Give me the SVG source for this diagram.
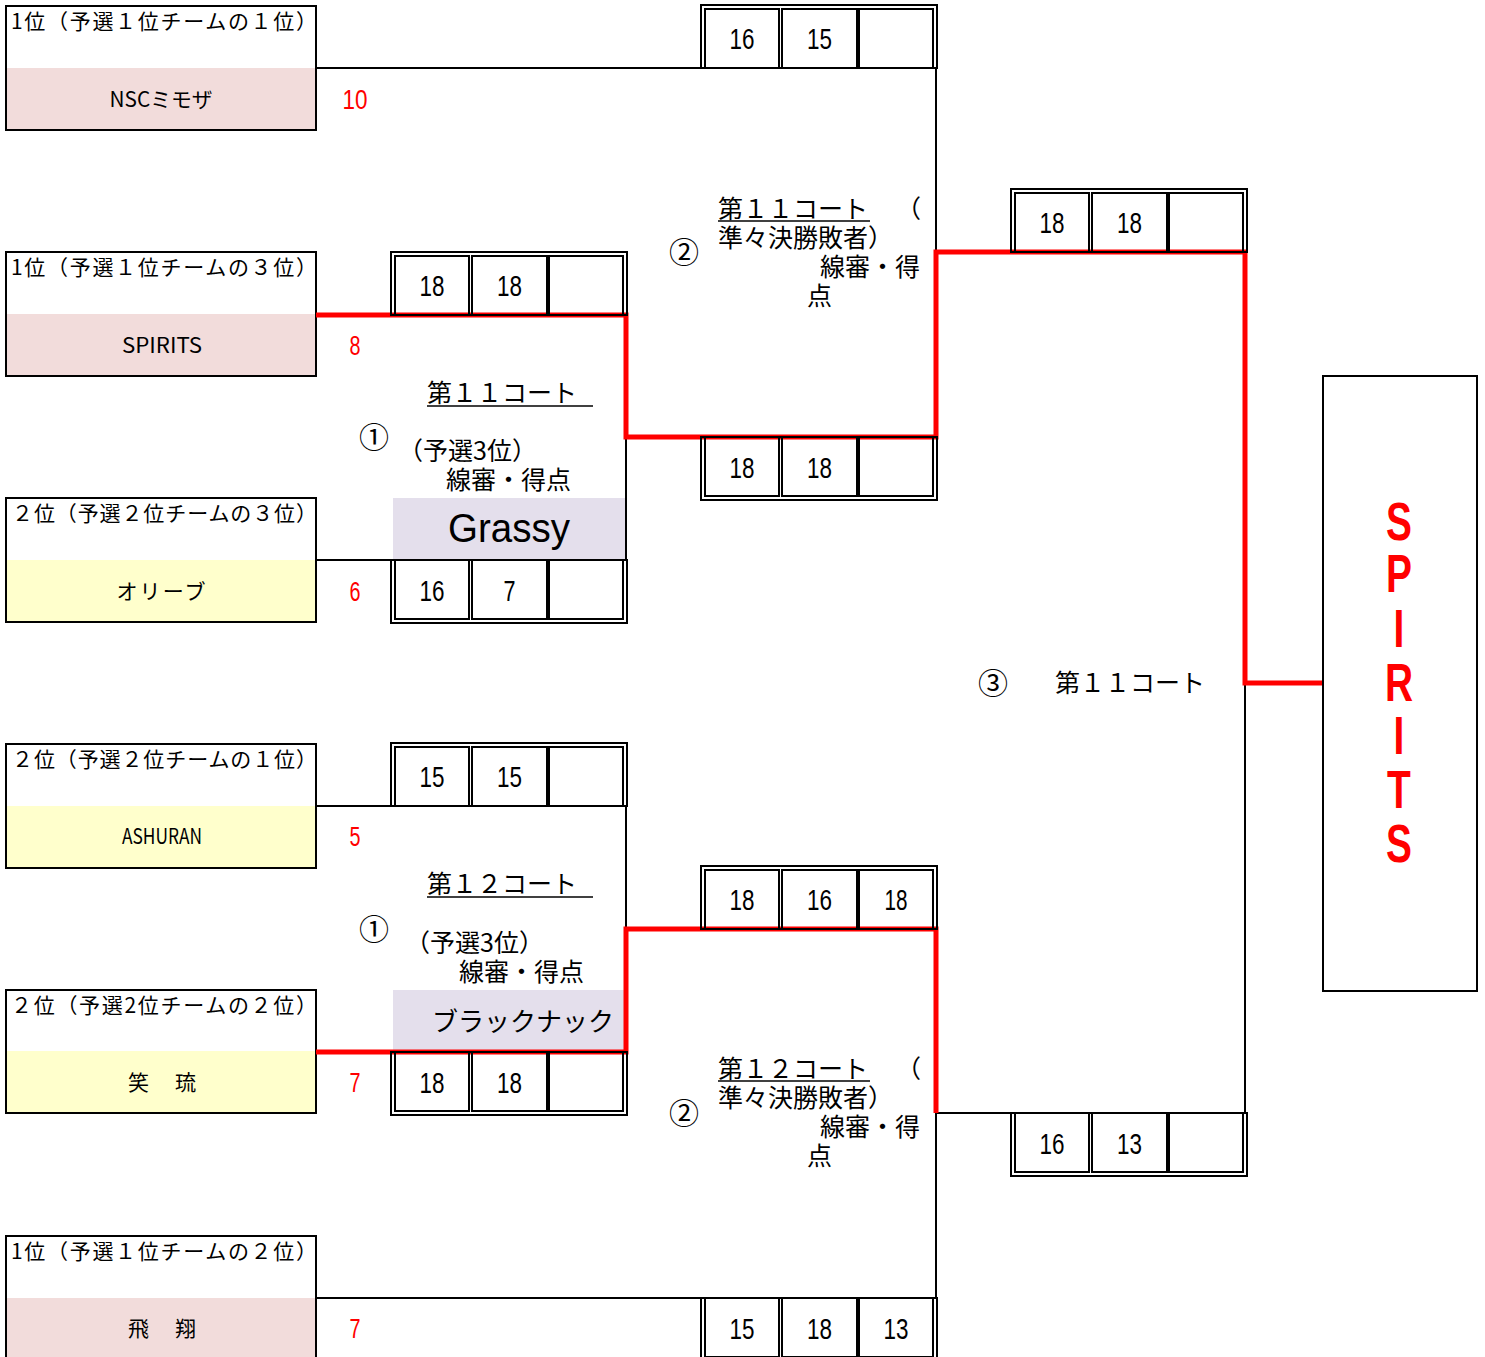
<svg xmlns="http://www.w3.org/2000/svg" width="1485" height="1357" viewBox="0 0 1485 1357">
<style>
.frame{fill:none;stroke:#000;stroke-width:2}
.pink{fill:#f2dcdb}
.yellow{fill:#ffffcc}
.lav{fill:#e4dfec}
.hdr{font-family:"Noto Sans CJK JP","Liberation Sans",sans-serif;font-size:21px;fill:#000}
.name{font-family:"Noto Sans CJK JP","Liberation Sans",sans-serif;font-size:21px;fill:#000;text-anchor:middle}
.lbl{font-family:"Noto Sans CJK JP","Liberation Sans",sans-serif;font-size:25px;fill:#000}
.circ{font-family:"Noto Sans CJK JP","DejaVu Sans",sans-serif;font-size:30px;fill:#000;text-anchor:middle}
.score{font-family:"Liberation Sans",sans-serif;font-size:29px;fill:#000;text-anchor:middle}
.pts{font-family:"Liberation Sans",sans-serif;font-size:28px;fill:#f00;text-anchor:middle}
.ul{stroke:#000;stroke-width:1.5}
.blk{fill:none;stroke:#000;stroke-width:2}
.red{fill:none;stroke:#f00;stroke-width:5}
</style>

<!-- Team boxes -->
<g id="team1">
<rect x="6" y="6" width="310" height="124" fill="#fff"/>
<rect class="pink" x="6" y="68" width="310" height="62"/>
<rect class="frame" x="6" y="6" width="310" height="124"/>
<text class="hdr" x="11" y="29" textLength="306">1位（予選１位チームの１位）</text>
<text class="name" x="161" y="107" textLength="103" lengthAdjust="spacingAndGlyphs">NSCミモザ</text>
<text class="pts" x="355" y="109" textLength="25" lengthAdjust="spacingAndGlyphs">10</text>
</g>
<g id="team2">
<rect x="6" y="252" width="310" height="124" fill="#fff"/>
<rect class="pink" x="6" y="314" width="310" height="62"/>
<rect class="frame" x="6" y="252" width="310" height="124"/>
<text class="hdr" x="11" y="275" textLength="306">1位（予選１位チームの３位）</text>
<text class="name" x="162" y="353" textLength="80" lengthAdjust="spacingAndGlyphs">SPIRITS</text>
<text class="pts" x="355" y="355" textLength="11" lengthAdjust="spacingAndGlyphs">8</text>
</g>
<g id="team3">
<rect x="6" y="498" width="310" height="124" fill="#fff"/>
<rect class="yellow" x="6" y="560" width="310" height="62"/>
<rect class="frame" x="6" y="498" width="310" height="124"/>
<text class="hdr" x="12" y="521" textLength="305">２位（予選２位チームの３位）</text>
<text class="name" x="161" y="599" textLength="89">オリーブ</text>
<text class="pts" x="355" y="601" textLength="11" lengthAdjust="spacingAndGlyphs">6</text>
</g>
<g id="team4">
<rect x="6" y="744" width="310" height="124" fill="#fff"/>
<rect class="yellow" x="6" y="806" width="310" height="62"/>
<rect class="frame" x="6" y="744" width="310" height="124"/>
<text class="hdr" x="12" y="767" textLength="305">２位（予選２位チームの１位）</text>
<text class="name" x="162" y="844" textLength="80" lengthAdjust="spacingAndGlyphs">ASHURAN</text>
<text class="pts" x="355" y="846" textLength="11" lengthAdjust="spacingAndGlyphs">5</text>
</g>
<g id="team5">
<rect x="6" y="990" width="310" height="123" fill="#fff"/>
<rect class="yellow" x="6" y="1051" width="310" height="62"/>
<rect class="frame" x="6" y="990" width="310" height="123"/>
<text class="hdr" x="11" y="1013" textLength="306">２位（予選2位チームの２位）</text>
<text class="name" x="162" y="1090" textLength="68">笑　琉</text>
<text class="pts" x="355" y="1092" textLength="11" lengthAdjust="spacingAndGlyphs">7</text>
</g>
<g id="team6">
<rect x="6" y="1236" width="310" height="126" fill="#fff"/>
<rect class="pink" x="6" y="1298" width="310" height="64"/>
<rect class="frame" x="6" y="1236" width="310" height="126"/>
<text class="hdr" x="11" y="1259" textLength="306">1位（予選１位チームの２位）</text>
<text class="name" x="162" y="1336" textLength="68">飛　翔</text>
<text class="pts" x="355" y="1338" textLength="11" lengthAdjust="spacingAndGlyphs">7</text>
</g>

<!-- Referee blocks -->
<g id="ref1">
<rect class="lav" x="393" y="498" width="233" height="62"/>
<text class="lbl" x="427" y="402">第１１コート</text>
<line class="ul" x1="427" y1="406" x2="593" y2="406"/>
<text class="circ" x="374" y="448">①</text>
<text class="lbl" x="398" y="460">（予選3位）</text>
<text class="lbl" x="446" y="489">線審・得点</text>
<text x="509" y="542" font-family="Liberation Sans,sans-serif" font-size="41" text-anchor="middle" textLength="122" lengthAdjust="spacingAndGlyphs">Grassy</text>
</g>
<g id="ref2">
<rect class="lav" x="393" y="990" width="233" height="62"/>
<text class="lbl" x="427" y="893">第１２コート</text>
<line class="ul" x1="427" y1="897" x2="593" y2="897"/>
<text class="circ" x="374" y="940">①</text>
<text class="lbl" x="405" y="952">（予選3位）</text>
<text class="lbl" x="459" y="981">線審・得点</text>
<text x="523" y="1031" font-family="Noto Sans CJK JP,sans-serif" font-size="26" text-anchor="middle" textLength="182">ブラックナック</text>
</g>
<g id="ref3">
<text class="circ" x="684" y="263">②</text>
<text class="lbl" x="718" y="218">第１１コート</text>
<line class="ul" x1="718" y1="221" x2="870" y2="221"/>
<text class="lbl" x="896" y="218">（</text>
<text class="lbl" x="718" y="247">準々決勝敗者）</text>
<text class="lbl" x="820" y="276">線審・得</text>
<text class="lbl" x="807" y="305">点</text>
</g>
<g id="ref4">
<text class="circ" x="684" y="1124">②</text>
<text class="lbl" x="718" y="1078">第１２コート</text>
<line class="ul" x1="718" y1="1081" x2="870" y2="1081"/>
<text class="lbl" x="896" y="1078">（</text>
<text class="lbl" x="718" y="1107">準々決勝敗者）</text>
<text class="lbl" x="820" y="1136">線審・得</text>
<text class="lbl" x="807" y="1165">点</text>
</g>
<g id="ref5">
<text class="circ" x="993" y="694">③</text>
<text class="lbl" x="1055" y="692">第１１コート</text>
</g>

<!-- Connectors -->
<g id="connectors">
<path class="blk" d="M316 68 H936 V252"/>
<path class="blk" d="M316 560 H626 V437"/>
<path class="blk" d="M316 806 H626 V929"/>
<path class="blk" d="M316 1298 H936 V1113"/>
<path class="blk" d="M936 1113 H1245 V683"/>
<path class="red" d="M316 315 H626 V437 H936 V252 H1245 V683 H1323"/>
<path class="red" d="M316 1052 H626 V929 H936 V1113"/>
</g>

<!-- Score boxes -->
<g id="score-qf1-top">
<rect class="frame" x="701" y="5" width="236" height="63"/>
<rect class="frame" x="705" y="9" width="74" height="59"/>
<rect class="frame" x="782" y="9" width="75" height="59"/>
<rect class="frame" x="859" y="9" width="74" height="59"/>
<text class="score" x="742" y="49" textLength="25" lengthAdjust="spacingAndGlyphs">16</text>
<text class="score" x="819.5" y="49" textLength="25" lengthAdjust="spacingAndGlyphs">15</text>
</g>
<g id="score-r1a-top">
<rect class="frame" x="391" y="252" width="236" height="63"/>
<rect class="frame" x="395" y="256" width="74" height="59"/>
<rect class="frame" x="472" y="256" width="75" height="59"/>
<rect class="frame" x="549" y="256" width="74" height="59"/>
<text class="score" x="432" y="296" textLength="25" lengthAdjust="spacingAndGlyphs">18</text>
<text class="score" x="509.5" y="296" textLength="25" lengthAdjust="spacingAndGlyphs">18</text>
</g>
<g id="score-r1a-bottom">
<rect class="frame" x="391" y="560" width="236" height="63"/>
<rect class="frame" x="395" y="560" width="74" height="59"/>
<rect class="frame" x="472" y="560" width="75" height="59"/>
<rect class="frame" x="549" y="560" width="74" height="59"/>
<text class="score" x="432" y="601" textLength="25" lengthAdjust="spacingAndGlyphs">16</text>
<text class="score" x="509.5" y="601" textLength="12" lengthAdjust="spacingAndGlyphs">7</text>
</g>
<g id="score-qf1-bottom">
<rect class="frame" x="701" y="437" width="236" height="63"/>
<rect class="frame" x="705" y="437" width="74" height="59"/>
<rect class="frame" x="782" y="437" width="75" height="59"/>
<rect class="frame" x="859" y="437" width="74" height="59"/>
<text class="score" x="742" y="478" textLength="25" lengthAdjust="spacingAndGlyphs">18</text>
<text class="score" x="819.5" y="478" textLength="25" lengthAdjust="spacingAndGlyphs">18</text>
</g>
<g id="score-sf-top">
<rect class="frame" x="1011" y="189" width="236" height="63"/>
<rect class="frame" x="1015" y="193" width="74" height="59"/>
<rect class="frame" x="1092" y="193" width="75" height="59"/>
<rect class="frame" x="1169" y="193" width="74" height="59"/>
<text class="score" x="1052" y="233" textLength="25" lengthAdjust="spacingAndGlyphs">18</text>
<text class="score" x="1129.5" y="233" textLength="25" lengthAdjust="spacingAndGlyphs">18</text>
</g>
<g id="score-sf-bottom">
<rect class="frame" x="1011" y="1113" width="236" height="63"/>
<rect class="frame" x="1015" y="1113" width="74" height="59"/>
<rect class="frame" x="1092" y="1113" width="75" height="59"/>
<rect class="frame" x="1169" y="1113" width="74" height="59"/>
<text class="score" x="1052" y="1154" textLength="25" lengthAdjust="spacingAndGlyphs">16</text>
<text class="score" x="1129.5" y="1154" textLength="25" lengthAdjust="spacingAndGlyphs">13</text>
</g>
<g id="score-r1b-top">
<rect class="frame" x="391" y="743" width="236" height="63"/>
<rect class="frame" x="395" y="747" width="74" height="59"/>
<rect class="frame" x="472" y="747" width="75" height="59"/>
<rect class="frame" x="549" y="747" width="74" height="59"/>
<text class="score" x="432" y="787" textLength="25" lengthAdjust="spacingAndGlyphs">15</text>
<text class="score" x="509.5" y="787" textLength="25" lengthAdjust="spacingAndGlyphs">15</text>
</g>
<g id="score-r1b-bottom">
<rect class="frame" x="391" y="1052" width="236" height="63"/>
<rect class="frame" x="395" y="1052" width="74" height="59"/>
<rect class="frame" x="472" y="1052" width="75" height="59"/>
<rect class="frame" x="549" y="1052" width="74" height="59"/>
<text class="score" x="432" y="1093" textLength="25" lengthAdjust="spacingAndGlyphs">18</text>
<text class="score" x="509.5" y="1093" textLength="25" lengthAdjust="spacingAndGlyphs">18</text>
</g>
<g id="score-qf2-top">
<rect class="frame" x="701" y="866" width="236" height="63"/>
<rect class="frame" x="705" y="870" width="74" height="59"/>
<rect class="frame" x="782" y="870" width="75" height="59"/>
<rect class="frame" x="859" y="870" width="74" height="59"/>
<text class="score" x="742" y="910" textLength="25" lengthAdjust="spacingAndGlyphs">18</text>
<text class="score" x="819.5" y="910" textLength="25" lengthAdjust="spacingAndGlyphs">16</text>
<text class="score" x="896" y="910" textLength="23" lengthAdjust="spacingAndGlyphs">18</text>
</g>
<g id="score-qf2-bottom">
<rect class="frame" x="701" y="1298" width="236" height="63"/>
<rect class="frame" x="705" y="1298" width="74" height="59"/>
<rect class="frame" x="782" y="1298" width="75" height="59"/>
<rect class="frame" x="859" y="1298" width="74" height="59"/>
<text class="score" x="742" y="1339" textLength="25" lengthAdjust="spacingAndGlyphs">15</text>
<text class="score" x="819.5" y="1339" textLength="25" lengthAdjust="spacingAndGlyphs">18</text>
<text class="score" x="896" y="1339" textLength="25" lengthAdjust="spacingAndGlyphs">13</text>
</g>

<!-- Champion -->
<g id="champion">
<rect class="frame" x="1323" y="376" width="154" height="615" fill="#fff"/>
<text transform="translate(1399,0) scale(0.72,1)" font-family="Liberation Sans,sans-serif" font-weight="bold" font-size="54" fill="#f00" text-anchor="middle"><tspan x="0" y="540">S</tspan><tspan x="0" y="592">P</tspan><tspan x="0" y="647">I</tspan><tspan x="0" y="701">R</tspan><tspan x="0" y="754">I</tspan><tspan x="0" y="808">T</tspan><tspan x="0" y="862">S</tspan></text>
</g>
</svg>
